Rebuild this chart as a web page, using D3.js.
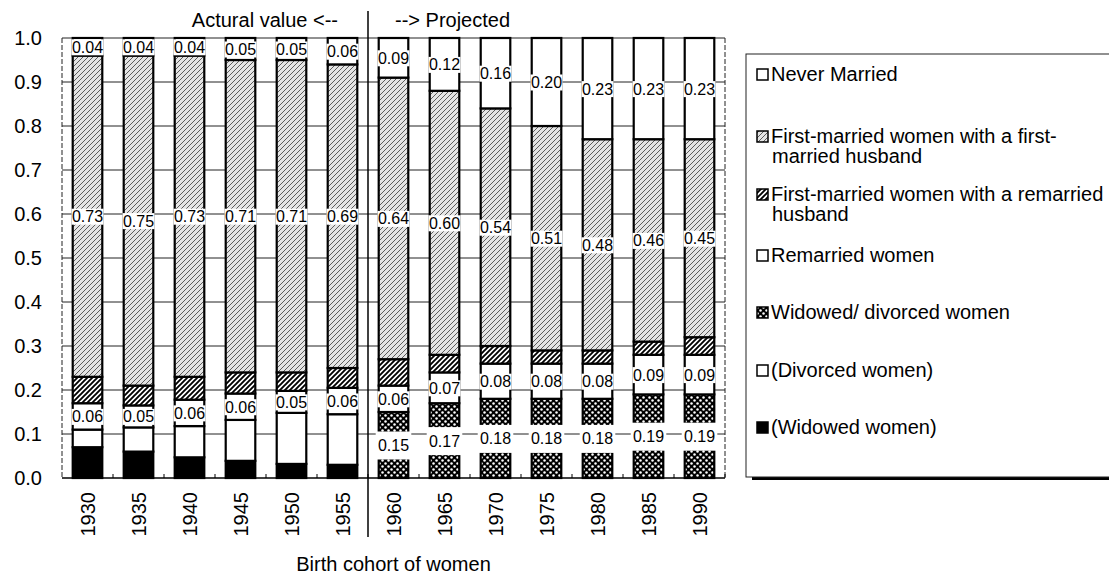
<!DOCTYPE html>
<html>
<head>
<meta charset="utf-8">
<script src="https://cdn.jsdelivr.net/npm/d3@7"></script>
<style>
  html, body { margin: 0; padding: 0; background: #fff; }
  svg { display: block; font-family: "Liberation Sans", Arial, Helvetica, sans-serif; }
</style>
</head>
<body>
<svg id="chart" width="1109" height="577"></svg>
<script>
// Birth cohorts of women
const years = [1930, 1935, 1940, 1945, 1950, 1955, 1960, 1965, 1970, 1975, 1980, 1985, 1990];

// Share of women by marital status (stacked bottom to top)
const widowed               = [0.070, 0.060, 0.047, 0.039, 0.032, 0.030, 0, 0, 0, 0, 0, 0, 0];
const divorced              = [0.040, 0.055, 0.071, 0.093, 0.116, 0.115, 0, 0, 0, 0, 0, 0, 0];
const widowedDivorced       = [0, 0, 0, 0, 0, 0, 0.15, 0.17, 0.18, 0.18, 0.18, 0.19, 0.19];
const remarried             = [0.06, 0.05, 0.06, 0.06, 0.05, 0.06, 0.06, 0.07, 0.08, 0.08, 0.08, 0.09, 0.09];
const firstRemarriedHusband = [0.060, 0.045, 0.052, 0.048, 0.042, 0.045, 0.06, 0.04, 0.04, 0.03, 0.03, 0.03, 0.04];
const firstFirstHusband     = [0.73, 0.75, 0.73, 0.71, 0.71, 0.69, 0.64, 0.60, 0.54, 0.51, 0.48, 0.46, 0.45];
const neverMarried          = [0.04, 0.04, 0.04, 0.05, 0.05, 0.06, 0.09, 0.12, 0.16, 0.20, 0.23, 0.23, 0.23];

const yTicks = [0, 0.1, 0.2, 0.3, 0.4, 0.5, 0.6, 0.7, 0.8, 0.9, 1.0];
const actualLabel = "Actural value <--";
const projectedLabel = "--> Projected";
const xTitle = "Birth cohort of women";

const series = [
  { key: "widowed",   values: widowed,               fill: "#000",           label: false, legend: ["(Widowed women)"] },
  { key: "divorced",  values: divorced,              fill: "#fff",           label: false, legend: ["(Divorced women)"] },
  { key: "widDiv",    values: widowedDivorced,       fill: "url(#pCross)",   label: "big", legend: ["Widowed/ divorced women"] },
  { key: "remarried", values: remarried,             fill: "#fff",           label: true,  legend: ["Remarried women"] },
  { key: "fmrh",      values: firstRemarriedHusband, fill: "url(#pBold)",    label: false, legend: ["First-married women with a remarried", "husband"] },
  { key: "fmfh",      values: firstFirstHusband,     fill: "url(#pLight)",   label: true,  legend: ["First-married women with a first-", "married husband"] },
  { key: "never",     values: neverMarried,          fill: "#fff",           label: true,  legend: ["Never Married"] }
];

const svg = d3.select("#chart");
const defs = svg.append("defs");

// light fine hatch
const pL = defs.append("pattern").attr("id", "pLight").attr("patternUnits", "userSpaceOnUse")
  .attr("width", 5).attr("height", 5);
pL.append("rect").attr("width", 5).attr("height", 5).attr("fill", "#e4e4e4");
pL.append("path").attr("d", "M0,5 L5,0 M-1,1 L1,-1 M4,6 L6,4")
  .attr("stroke", "#3a3a3a").attr("stroke-width", 0.8);

// bold hatch
const pB = defs.append("pattern").attr("id", "pBold").attr("patternUnits", "userSpaceOnUse")
  .attr("width", 5).attr("height", 5);
pB.append("rect").attr("width", 5).attr("height", 5).attr("fill", "#fff");
pB.append("path").attr("d", "M0,5 L5,0 M-1,1 L1,-1 M4,6 L6,4")
  .attr("stroke", "#000").attr("stroke-width", 1.9);

// dark cross-hatch with light dots
const pC = defs.append("pattern").attr("id", "pCross").attr("patternUnits", "userSpaceOnUse")
  .attr("width", 6).attr("height", 6);
pC.append("rect").attr("width", 6).attr("height", 6).attr("fill", "#000");
pC.append("circle").attr("cx", 1.5).attr("cy", 1.5).attr("r", 1.25).attr("fill", "#fff");
pC.append("circle").attr("cx", 4.5).attr("cy", 4.5).attr("r", 1.25).attr("fill", "#fff");

const plot = { left: 62, right: 725, top: 38, bottom: 478 };

const x = d3.scaleBand().domain(years).range([plot.left, plot.right])
  .paddingInner(0.42).paddingOuter(0.21);
const y = d3.scaleLinear().domain([0, 1]).range([plot.bottom, plot.top]);

// gridlines
svg.append("g").selectAll("line").data(yTicks.filter(d => d > 0)).join("line")
  .attr("x1", plot.left).attr("x2", plot.right)
  .attr("y1", d => y(d)).attr("y2", d => y(d))
  .attr("stroke", "#222").attr("stroke-width", 1);

// plot side borders
svg.append("g").selectAll("line").data([plot.left, plot.right]).join("line")
  .attr("x1", d => d).attr("x2", d => d).attr("y1", plot.top).attr("y2", plot.bottom)
  .attr("stroke", "#222").attr("stroke-width", 1).attr("stroke-dasharray", "5,2");

// y axis labels
const yAxis = d3.axisLeft(y).tickValues(yTicks).tickFormat(d3.format(".1f")).tickSize(0).tickPadding(20);
const gy = svg.append("g").attr("transform", `translate(${plot.left},0)`).call(yAxis);
gy.select(".domain").remove();
gy.selectAll("text").attr("font-size", 20).attr("fill", "#000")
  .attr("font-family", "Liberation Sans, Arial, sans-serif");

// stacked data
const rows = years.map((yr, i) => {
  const r = { year: yr };
  series.forEach(s => r[s.key] = s.values[i]);
  return r;
});
const stacked = d3.stack().keys(series.map(s => s.key))(rows);

const barG = svg.append("g");
stacked.forEach((layer, li) => {
  const s = series[li];
  barG.append("g").selectAll("rect")
    .data(layer.filter(d => d[1] - d[0] > 0))
    .join("rect")
    .attr("x", d => x(d.data.year))
    .attr("width", x.bandwidth())
    .attr("y", d => y(d[1]))
    .attr("height", d => y(d[0]) - y(d[1]))
    .attr("fill", s.fill)
    .attr("stroke", "#000")
    .attr("stroke-width", 2.2);
});

// x axis baseline and small ticks between bars
svg.append("line").attr("x1", plot.left).attr("x2", plot.right)
  .attr("y1", plot.bottom).attr("y2", plot.bottom)
  .attr("stroke", "#000").attr("stroke-width", 1.5);
const step = x.step();
svg.append("g").selectAll("line").data(years).join("line")
  .attr("x1", d => x(d) + x.bandwidth() + (step - x.bandwidth()) / 2)
  .attr("x2", d => x(d) + x.bandwidth() + (step - x.bandwidth()) / 2)
  .attr("y1", plot.bottom).attr("y2", plot.bottom - 4)
  .attr("stroke", "#000").attr("stroke-width", 1);

// data labels
const labelG = svg.append("g");
stacked.forEach((layer, li) => {
  const s = series[li];
  if (!s.label) return;
  layer.filter(d => d[1] - d[0] > 0).forEach(d => {
    const cx = x(d.data.year) + x.bandwidth() / 2;
    const cy = (y(d[0]) + y(d[1])) / 2;
    const txt = d3.format(".2f")(d[1] - d[0]);
    const big = s.label === "big";
    const w = big ? x.bandwidth() + 6 : 32;
    const h = big ? 28 : 16;
    labelG.append("rect").attr("x", cx - w / 2).attr("y", cy - h / 2 + 0.5)
      .attr("width", w).attr("height", h).attr("fill", "#fff");
    labelG.append("text").attr("x", cx).attr("y", cy + 6)
      .attr("text-anchor", "middle").attr("font-size", 16).attr("fill", "#000").text(txt);
  });
});

// x labels (rotated)
svg.append("g").selectAll("text").data(years).join("text")
  .attr("transform", d => `translate(${x(d) + x.bandwidth() / 2 + 7},492) rotate(-90)`)
  .attr("text-anchor", "end").attr("font-size", 20).attr("fill", "#000")
  .text(d => d);

// separator between actual and projected values
const sepX = (x(1955) + x.bandwidth() + x(1960)) / 2;
svg.append("line").attr("x1", sepX).attr("x2", sepX).attr("y1", 11).attr("y2", 537)
  .attr("stroke", "#000").attr("stroke-width", 1.5);
svg.append("text").attr("x", sepX - 30).attr("y", 27).attr("text-anchor", "end")
  .attr("font-size", 20).text(actualLabel);
svg.append("text").attr("x", sepX + 27).attr("y", 27).attr("text-anchor", "start")
  .attr("font-size", 20).text(projectedLabel);

// axis title
svg.append("text").attr("x", (plot.left + plot.right) / 2).attr("y", 571)
  .attr("text-anchor", "middle").attr("font-size", 20).text(xTitle);

// legend
const legend = svg.append("g");
legend.append("rect").attr("x", 752).attr("y", 477).attr("width", 400).attr("height", 3).attr("fill", "#000");
legend.append("rect").attr("x", 746).attr("y", 54).attr("width", 400).attr("height", 423)
  .attr("fill", "#fff").attr("stroke", "#222").attr("stroke-width", 1);
const legendOrder = series.slice().reverse();
const legendBase = [81, 143, 201, 262, 319, 377, 434];
legendOrder.forEach((s, i) => {
  const by = legendBase[i];
  legend.append("rect").attr("x", 757).attr("y", by - 12).attr("width", 11).attr("height", 11)
    .attr("fill", s.fill).attr("stroke", "#000").attr("stroke-width", 1.5);
  s.legend.forEach((line, j) => {
    legend.append("text").attr("x", j === 0 ? 771 : 772).attr("y", by + j * 20)
      .attr("font-size", 20).attr("fill", "#000").text(line);
  });
});
</script>
</body>
</html>
